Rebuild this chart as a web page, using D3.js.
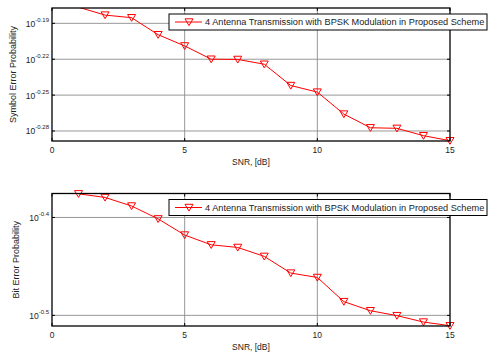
<!DOCTYPE html>
<html>
<head>
<meta charset="utf-8">
<script src="https://cdn.jsdelivr.net/npm/d3@7/dist/d3.min.js"></script>
<style>
  body { margin: 0; background: #fff; }
  svg text { font-family: "Liberation Sans", Arial, sans-serif; fill: #222; }
</style>
</head>
<body>
<div id="chart"></div>
<script>
// SNR in dB
const snr = [1, 2, 3, 4, 5, 6, 7, 8, 9, 10, 11, 12, 13, 14, 15];
// symbol and bit error probabilities
const symbolErr = [0.6660, 0.6560, 0.6527, 0.6317, 0.6182, 0.6026, 0.6023, 0.5968,
                   0.5728, 0.5656, 0.5422, 0.5281, 0.5275, 0.5201, 0.5151];
const bitErr = [0.4209, 0.4173, 0.4090, 0.3968, 0.3820, 0.3733, 0.3710, 0.3633,
                0.3493, 0.3457, 0.3266, 0.3197, 0.3160, 0.3113, 0.3086];
// axis limits and ticks
const xTicks = [0, 5, 10, 15];
const symbolLim = [0.5148, 0.6650];
const bitLim = [0.3084, 0.4212];
const symbolTickExp = ["-0.19", "-0.22", "-0.25", "-0.28"];
const bitTickExp = ["-0.4", "-0.5"];
const legendLabel = "4 Antenna Transmission with BPSK Modulation in Proposed Scheme";

const width = 488, height = 354;
const svg = d3.select("#chart").append("svg")
  .attr("width", width)
  .attr("height", height);

function drawPanel(opts) {
  const { top, bottom, values, lim, tickExp, ylabel, id } = opts;
  const left = 52, right = 450;

  const x = d3.scaleLinear().domain([0, 15]).range([left, right]);
  const y = d3.scaleLog().domain(lim).range([bottom, top]);

  const g = svg.append("g");

  // grid
  g.selectAll(".gx").data(xTicks.slice(1, -1)).enter().append("line")
    .attr("x1", d => x(d)).attr("x2", d => x(d))
    .attr("y1", top).attr("y2", bottom)
    .attr("stroke", "#8c8c8c").attr("stroke-width", 0.9);
  g.selectAll(".gy").data(tickExp).enter().append("line")
    .attr("x1", left).attr("x2", right)
    .attr("y1", d => y(Math.pow(10, +d))).attr("y2", d => y(Math.pow(10, +d)))
    .attr("stroke", "#8c8c8c").attr("stroke-width", 0.9);

  // data line, clipped to the axes
  svg.append("clipPath").attr("id", id)
    .append("rect").attr("x", left).attr("y", top)
    .attr("width", right - left).attr("height", bottom - top);

  const pts = snr.map((s, i) => [s, values[i]]);
  g.append("path")
    .datum(pts)
    .attr("clip-path", `url(#${id})`)
    .attr("fill", "none")
    .attr("stroke", "#ff0000")
    .attr("stroke-width", 1)
    .attr("d", d3.line().x(d => x(d[0])).y(d => y(d[1])));

  const tri = "M-4,-3.2L4,-3.2L0,3.6Z";
  g.selectAll(".mk")
    .data(pts.filter(d => d[1] >= lim[0] && d[1] <= lim[1]))
    .enter().append("path")
    .attr("d", tri)
    .attr("transform", d => `translate(${x(d[0])},${y(d[1])})`)
    .attr("fill", "none")
    .attr("stroke", "#ff0000")
    .attr("stroke-width", 1);

  // box
  g.append("rect")
    .attr("x", left).attr("y", top)
    .attr("width", right - left).attr("height", bottom - top)
    .attr("fill", "none").attr("stroke", "#000").attr("stroke-width", 1.3);

  // inside ticks on all four sides
  xTicks.forEach(t => {
    g.append("line").attr("x1", x(t)).attr("x2", x(t))
      .attr("y1", bottom).attr("y2", bottom - 3).attr("stroke", "#000");
    g.append("line").attr("x1", x(t)).attr("x2", x(t))
      .attr("y1", top).attr("y2", top + 3).attr("stroke", "#000");
    g.append("text")
      .attr("x", x(t)).attr("y", bottom + 12)
      .attr("text-anchor", "middle")
      .attr("font-size", 8.5)
      .text(t);
  });
  tickExp.forEach(e => {
    const yy = y(Math.pow(10, +e));
    g.append("line").attr("x1", left).attr("x2", left + 3)
      .attr("y1", yy).attr("y2", yy).attr("stroke", "#000");
    g.append("line").attr("x1", right).attr("x2", right - 3)
      .attr("y1", yy).attr("y2", yy).attr("stroke", "#000");
    const lab = g.append("text")
      .attr("x", left - 3).attr("y", yy + 3.5)
      .attr("text-anchor", "end")
      .attr("font-size", 8.5);
    lab.append("tspan").text("10");
    lab.append("tspan").attr("font-size", 6).attr("dy", -5).text(e);
  });

  // axis labels
  g.append("text")
    .attr("x", (left + right) / 2).attr("y", bottom + 24)
    .attr("text-anchor", "middle")
    .attr("font-size", 8.5)
    .text("SNR, [dB]");
  g.append("text")
    .attr("transform", `translate(${opts.ylabelX},${(top + bottom) / 2}) rotate(-90)`)
    .attr("text-anchor", "middle")
    .attr("font-size", 9)
    .text(ylabel);

  // legend
  const lx = 169, ly = top + 6, lh = 16;
  const leg = g.append("g");
  const box = leg.append("rect")
    .attr("x", lx).attr("y", ly).attr("height", lh)
    .attr("fill", "#fff").attr("stroke", "#000").attr("stroke-width", 1);
  leg.append("line")
    .attr("x1", lx + 6).attr("x2", lx + 33)
    .attr("y1", ly + lh / 2).attr("y2", ly + lh / 2)
    .attr("stroke", "#ff0000");
  leg.append("path")
    .attr("d", tri)
    .attr("transform", `translate(${lx + 20},${ly + lh / 2})`)
    .attr("fill", "none").attr("stroke", "#ff0000");
  const txt = leg.append("text")
    .attr("x", lx + 36).attr("y", ly + lh / 2 + 3.3)
    .attr("font-size", 9.2)
    .text(legendLabel);
  const tw = txt.node().getComputedTextLength();
  box.attr("width", Math.min(36 + tw + 4, width - 1 - lx));
}

drawPanel({ id: "clipTop", top: 8, bottom: 141, values: symbolErr, lim: symbolLim,
  tickExp: symbolTickExp, ylabel: "Symbol Error Probability", ylabelX: 16 });
drawPanel({ id: "clipBot", top: 193.5, bottom: 326, values: bitErr, lim: bitLim,
  tickExp: bitTickExp, ylabel: "Bit Error Probability", ylabelX: 19 });
</script>
</body>
</html>
